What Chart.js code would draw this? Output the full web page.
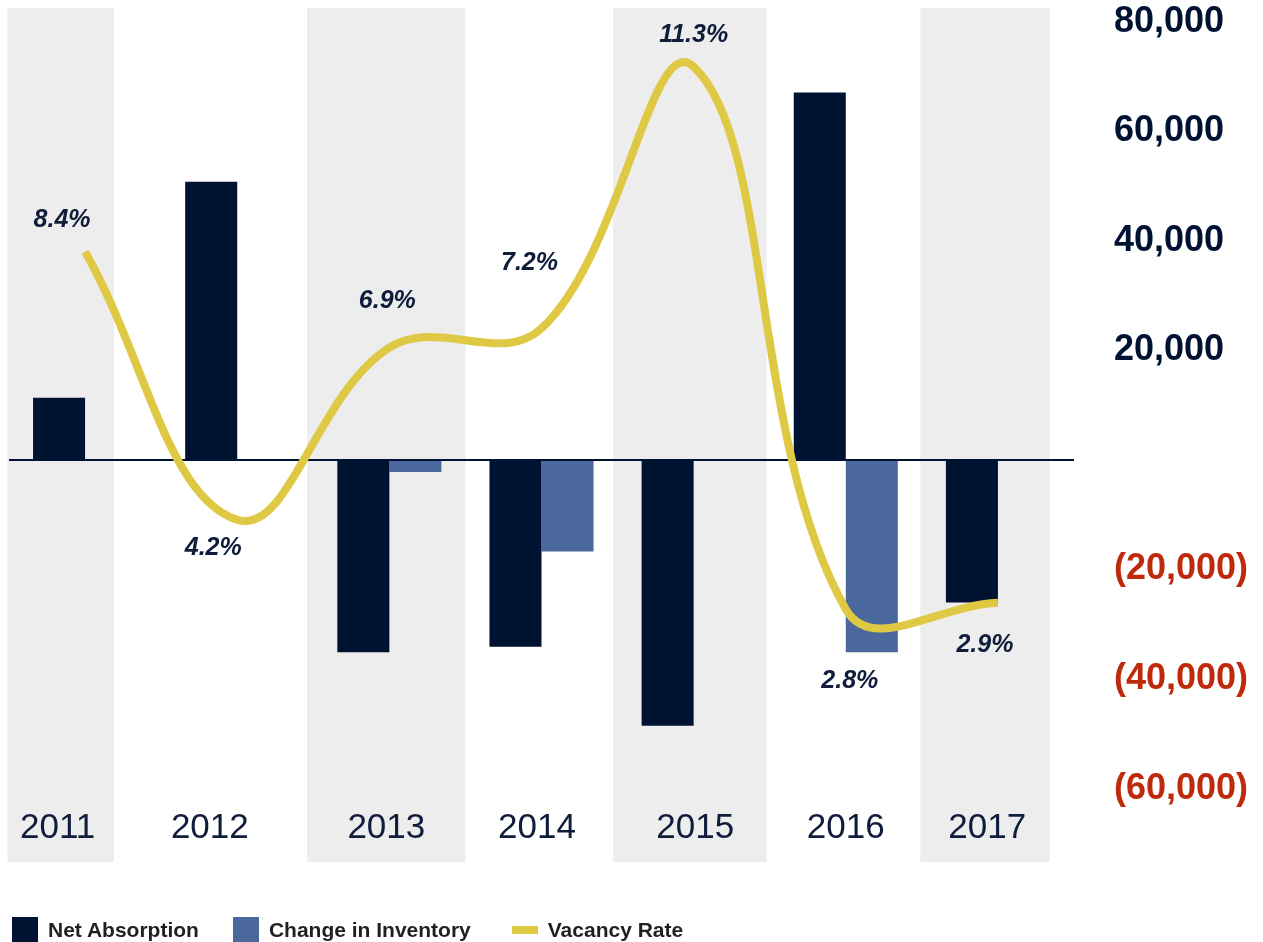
<!DOCTYPE html>
<html>
<head>
<meta charset="utf-8">
<title>Net Absorption, Change in Inventory and Vacancy Rate</title>
<script src="https://cdn.jsdelivr.net/npm/chart.js@4.4.1/dist/chart.umd.min.js"></script>
<style>
  html, body { margin: 0; padding: 0; background: #fff; overflow: hidden; }
  #wrap { position: relative; width: 1263px; height: 942px; }
  #legend {
    position: absolute; left: 12px; top: 917px; display: flex;
    font: bold 21px "Liberation Sans", Arial, sans-serif; color: #231f20;
  }
  .item { display: flex; align-items: center; height: 26px; margin-right: 34px; }
  .item:nth-child(2) { margin-right: 41px; }
  .swatch { width: 26px; height: 26px; margin-right: 10px; }
  .swatch.line { height: 8px; }
</style>
</head>
<body>
<div id="wrap">
  <canvas id="chart" width="1263" height="942"></canvas>
  <div id="legend"></div>
</div>
<script>
// Data
const years = ['2011', '2012', '2013', '2014', '2015', '2016', '2017'];
const netAbsorption = [11400, 50800, -35100, -34100, -48500, 67100, -26000];
const inventoryChange = [null, null, -2200, -16700, null, -35100, null];
const vacancyRate = [8.4, 4.2, 6.9, 7.2, 11.3, 2.8, 2.9];
const yTicks = [-60000, -40000, -20000, 0, 20000, 40000, 60000, 80000];

const NAVY = '#001232';
const BLUE = '#4b689d';
const YELLOW = '#dfc843';
const RED = '#bf2a0c';
const BAND = '#ededed';
const TEXT = '#0f1c3a';

function fmt(v) {
  const s = Math.abs(v).toLocaleString('en-US');
  return v < 0 ? '(' + s + ')' : s;
}

// Gray bands behind alternate years, plus the year labels inside the plot
const decorPlugin = {
  id: 'decor',
  beforeDraw(chart, args, opts) {
    const { ctx, chartArea } = chart;
    const x = chart.scales.x;
    const w = x.getPixelForValue(1) - x.getPixelForValue(0);
    ctx.save();
    ctx.fillStyle = BAND;
    opts.bands.forEach(([a, b]) => {
      const x0 = x.getPixelForValue(0) + a * w;
      const x1 = x.getPixelForValue(0) + b * w;
      ctx.fillRect(x0, chartArea.top, x1 - x0, chartArea.bottom - chartArea.top);
    });
    ctx.restore();
  },
  afterDatasetsDraw(chart, args, opts) {
    const { ctx, chartArea } = chart;
    const x = chart.scales.x;
    const w = x.getPixelForValue(1) - x.getPixelForValue(0);
    ctx.save();
    ctx.font = '35px "Liberation Sans", Arial, sans-serif';
    ctx.fillStyle = TEXT;
    ctx.textAlign = 'center';
    ctx.textBaseline = 'middle';
    chart.data.labels.forEach((lab, i) => {
      ctx.fillText(lab, x.getPixelForValue(i) + opts.yearShift[i] * w, chartArea.bottom - 34);
    });
    ctx.restore();
  }
};

// Vacancy rate value labels next to the line points
const rateLabelPlugin = {
  id: 'rateLabels',
  afterDatasetsDraw(chart, args, opts) {
    const { ctx } = chart;
    const idx = chart.data.datasets.findIndex(d => d.type === 'line');
    const meta = chart.getDatasetMeta(idx);
    ctx.save();
    ctx.font = 'italic bold 25px "Liberation Sans", Arial, sans-serif';
    ctx.fillStyle = TEXT;
    ctx.textAlign = 'center';
    ctx.textBaseline = 'middle';
    meta.data.forEach((pt, i) => {
      const [dx, dy] = opts.offsets[i];
      ctx.fillText(chart.data.datasets[idx].data[i].toFixed(1) + '%', pt.x + dx, pt.y + dy);
    });
    ctx.restore();
  }
};

const chart = new Chart(document.getElementById('chart'), {
  type: 'bar',
  data: {
    labels: years,
    datasets: [
      {
        type: 'line',
        label: 'Vacancy Rate',
        data: vacancyRate,
        yAxisID: 'yV',
        borderColor: YELLOW,
        backgroundColor: YELLOW,
        borderWidth: 8,
        pointRadius: 0,
        tension: 0.4,
        fill: false,
        order: 0
      },
      {
        label: 'Net Absorption',
        data: netAbsorption,
        backgroundColor: NAVY,
        order: 1
      },
      {
        label: 'Change in Inventory',
        data: inventoryChange,
        backgroundColor: BLUE,
        order: 2
      }
    ]
  },
  options: {
    responsive: false,
    animation: false,
    devicePixelRatio: 1,
    categoryPercentage: 0.684,
    barPercentage: 1,
    layout: { padding: { top: 8, bottom: 80, left: 9, right: 9 } },
    scales: {
      x: { display: false, offset: true },
      y: {
        position: 'right',
        min: -73400,
        max: 82550,
        afterBuildTicks: s => { s.ticks = yTicks.map(v => ({ value: v })); },
        afterFit: s => { s.width = 180; s.paddingTop = 0; s.paddingBottom = 0; },
        border: { display: false },
        grid: {
          drawTicks: false,
          lineWidth: 2,
          color: c => (c.tick && c.tick.value === 0 ? NAVY : 'rgba(0,0,0,0)')
        },
        ticks: {
          padding: 40,
          font: { family: '"Liberation Sans", Arial, sans-serif', size: 36, weight: 'bold' },
          color: c => (c.tick.value < 0 ? RED : NAVY),
          callback: v => (v === 0 ? '' : fmt(v))
        }
      },
      yV: { display: false, min: -1.16, max: 12.22 }
    },
    plugins: {
      legend: { display: false },
      tooltip: { enabled: false },
      decor: {
        bands: [[-0.51, 0.19], [1.46, 2.5], [3.47, 4.48], [5.49, 6.34]],
        yearShift: [-0.18, -0.18, -0.02, -0.03, 0.01, 0, -0.07]
      },
      rateLabels: {
        offsets: [[-23, -32], [-24, 28], [-2, -46], [-12, -65], [0, -32], [4, 72], [-13, 42]]
      }
    }
  },
  plugins: [decorPlugin, rateLabelPlugin]
});

// Legend below the chart, built from the datasets
const legendOrder = ['Net Absorption', 'Change in Inventory', 'Vacancy Rate'];
const legend = document.getElementById('legend');
legendOrder.forEach(name => {
  const ds = chart.data.datasets.find(d => d.label === name);
  const item = document.createElement('div');
  item.className = 'item';
  const sw = document.createElement('div');
  sw.className = 'swatch' + (ds.type === 'line' ? ' line' : '');
  sw.style.background = ds.type === 'line' ? ds.borderColor : ds.backgroundColor;
  const txt = document.createElement('span');
  txt.textContent = name;
  item.appendChild(sw);
  item.appendChild(txt);
  legend.appendChild(item);
});
</script>
</body>
</html>
